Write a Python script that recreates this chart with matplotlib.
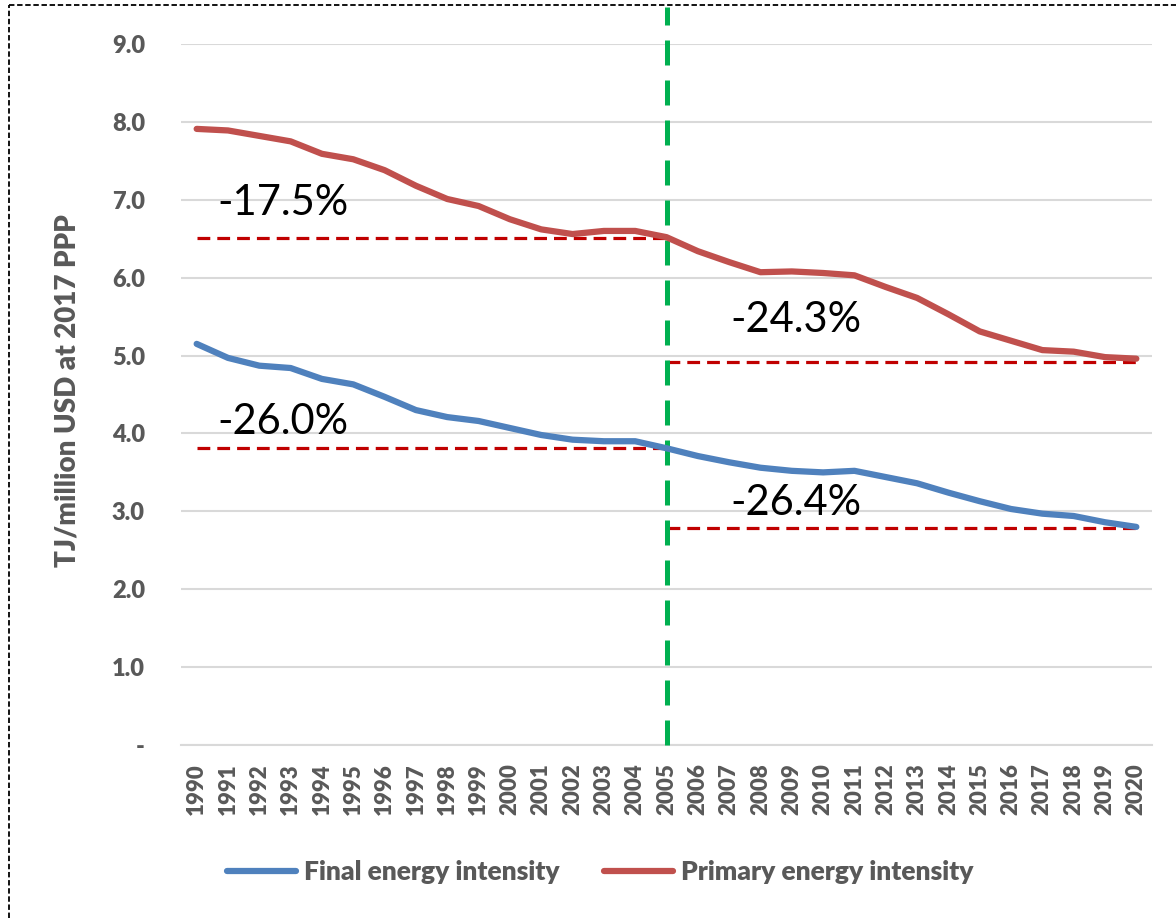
import matplotlib
matplotlib.use("Agg")
import matplotlib.pyplot as plt
from matplotlib.lines import Line2D
from matplotlib.ticker import FuncFormatter

years = list(range(1990, 2021))
primary = [7.91, 7.89, 7.82, 7.75, 7.59, 7.52, 7.38, 7.18, 7.01, 6.92,
           6.75, 6.62, 6.56, 6.60, 6.60, 6.52, 6.34, 6.20, 6.07, 6.08,
           6.06, 6.03, 5.88, 5.74, 5.53, 5.31, 5.19, 5.07, 5.05, 4.98, 4.96]
final = [5.15, 4.97, 4.87, 4.84, 4.70, 4.63, 4.47, 4.30, 4.21, 4.16,
         4.07, 3.98, 3.92, 3.90, 3.90, 3.81, 3.71, 3.63, 3.56, 3.52,
         3.50, 3.52, 3.44, 3.36, 3.24, 3.13, 3.03, 2.97, 2.94, 2.86, 2.80]
series_names = ["Final energy intensity", "Primary energy intensity"]

# reference levels (dashed red) and change labels
ref_levels = [(1990, 2005, 6.51), (1990, 2005, 3.81), (2005, 2020, 4.92), (2005, 2020, 2.78)]
change_labels = ["-17.5%", "-26.0%", "-24.3%", "-26.4%"]
label_pos = [(1990.65, 6.96), (1990.65, 4.15), (2007.05, 5.46), (2007.05, 3.11)]
split_year = 2005

yticks = [0, 1, 2, 3, 4, 5, 6, 7, 8, 9]

FONT = "Lato"
GRAY = "#595959"
BLUE = "#4F81BD"
RED = "#C0504D"
DRED = "#C00000"
GREEN = "#00B050"
GRID = "#D9D9D9"

plt.rcParams['font.family'] = [FONT, 'DejaVu Sans']

fig = plt.figure(figsize=(11.76, 9.18), dpi=100)
ax = fig.add_axes([181/1176, 1-745/918, (1152-181)/1176, (745-44)/918])

ax.set_xlim(1989.5, 2020.5)
ax.set_ylim(0, 9)
ax.set_yticks(yticks)
ax.yaxis.set_major_formatter(FuncFormatter(lambda v, p: "-" if v == 0 else f"{v:.1f}"))
ax.set_xticks(years)
ax.set_xticklabels([str(y) for y in years], rotation=90)
ax.grid(axis='y', color=GRID, linewidth=1.5)
ax.set_axisbelow(True)
for s in ['top', 'right', 'left']:
    ax.spines[s].set_visible(False)
ax.spines['bottom'].set_color(GRID)
ax.spines['bottom'].set_linewidth(1.5)
ax.tick_params(axis='y', length=0, colors=GRAY, labelsize=17, pad=26)
ax.tick_params(axis='x', length=0, colors=GRAY, labelsize=16, pad=13)
for lab in ax.get_xticklabels() + ax.get_yticklabels():
    lab.set_fontweight('heavy')

ax.set_ylabel("TJ/million USD at 2017 PPP", fontsize=20, fontweight='heavy', color=GRAY)
ax.yaxis.set_label_coords(-0.104, 0.505)

# reference dashed lines
for (x0, x1, lv) in ref_levels:
    ax.plot([x0, x1], [lv, lv], color=DRED, linewidth=2.3, linestyle=(0, (4, 2.2)), zorder=3)

# green split line
ax.plot([split_year, split_year], [0, 9.47], color=GREEN, linewidth=3.6,
        linestyle=(0, (5, 3)), clip_on=False, zorder=4)

# data lines
ax.plot(years, final, color=BLUE, linewidth=4.5, solid_capstyle='round', solid_joinstyle='round', zorder=5)
ax.plot(years, primary, color=RED, linewidth=4.5, solid_capstyle='round', solid_joinstyle='round', zorder=5)

for txt, (x, y) in zip(change_labels, label_pos):
    ax.text(x, y, txt, fontsize=30, color='black', ha='left', va='center', zorder=6)

handles = [Line2D([0], [0], color=BLUE, linewidth=4.5, solid_capstyle='round'),
           Line2D([0], [0], color=RED, linewidth=4.5, solid_capstyle='round')]
leg = fig.legend(handles, series_names, loc='center', bbox_to_anchor=(600/1176, 1-872/918),
                 ncol=2, frameon=False, fontsize=19, handlelength=2.6, handletextpad=0.3,
                 columnspacing=1.7)
for t in leg.get_texts():
    t.set_color(GRAY)
    t.set_fontweight('heavy')

# dashed figure border
fig.add_artist(Line2D([9/1176, 9/1176], [0, 1-5/918], transform=fig.transFigure,
                      color='black', linewidth=1.3, linestyle=(0, (3, 1.5))))
fig.add_artist(Line2D([9/1176, 1], [1-5/918, 1-5/918], transform=fig.transFigure,
                      color='black', linewidth=1.3, linestyle=(0, (3, 1.5))))

fig.savefig("out.png", dpi=100)
